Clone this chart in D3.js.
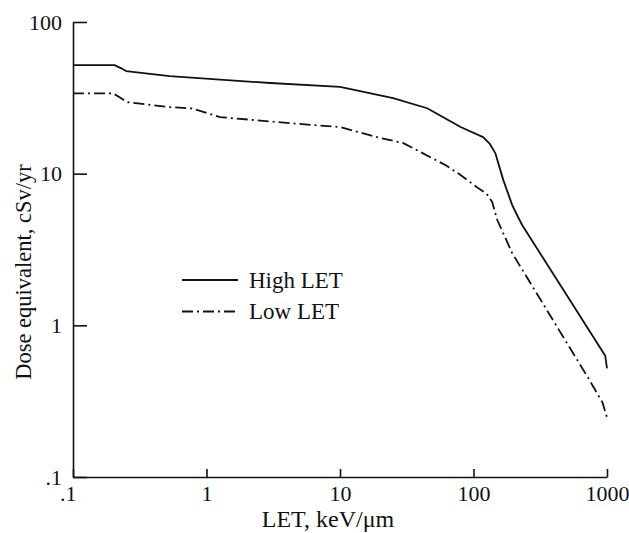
<!DOCTYPE html>
<html>
<head>
<meta charset="utf-8">
<script src="https://cdn.jsdelivr.net/npm/d3@7"></script>
<style>
  body { margin: 0; background: #fff; }
  text { font-family: "Liberation Serif", "Times New Roman", serif; fill: #111; }
</style>
</head>
<body>
<div id="chart"></div>
<script>
// données
const highX = [0.1, 0.205, 0.23, 0.25, 0.53, 3.0, 10, 25, 45, 80, 118, 132, 146, 167, 195, 215, 232, 970, 1000];
const highY = [52, 52, 49.5, 47.5, 44, 39.6, 37.4, 31.5, 27, 20.3, 17.4, 15.8, 13.6, 9.1, 6.2, 5.2, 4.57, 0.63, 0.52];

const lowX = [0.1, 0.2, 0.225, 0.254, 0.53, 0.78, 1.26, 6.3, 10, 19, 29.8, 61.5, 80, 109, 125, 138, 151, 195, 726, 925, 1000];
const lowY = [33.8, 33.8, 31.8, 29.6, 27.5, 26.9, 23.6, 20.9, 20.3, 17.4, 15.9, 11.4, 9.8, 8.0, 7.4, 6.5, 4.93, 2.99, 0.447, 0.31, 0.247];

const xTicks = [0.1, 1, 10, 100, 1000];
const xTickLabels = [".1", "1", "10", "100", "1000"];
const yTicks = [0.1, 1, 10, 100];
const yTickLabels = [".1", "1", "10", "100"];

const seriesNames = ["High LET", "Low LET"];

const width = 629, height = 533;
const margin = { top: 22, right: 22, bottom: 56, left: 73 };

const svg = d3.select("#chart").append("svg")
  .attr("width", width)
  .attr("height", height);

const x = d3.scaleLog().domain([0.1, 1000]).range([margin.left, width - margin.right]);
const y = d3.scaleLog().domain([0.1, 100]).range([height - margin.bottom, margin.top]);

// axe x
const xAxis = svg.append("g")
  .attr("transform", `translate(0,${height - margin.bottom})`)
  .call(d3.axisBottom(x)
    .tickValues(xTicks)
    .tickFormat((d, i) => xTickLabels[i])
    .tickSizeInner(-8)
    .tickSizeOuter(0)
    .tickPadding(8));
xAxis.selectAll("text").attr("font-size", 22).attr("fill", "#111");
xAxis.select("g.tick text").attr("text-anchor", "end").attr("dx", 3);

// axe y
const yAxis = svg.append("g")
  .attr("transform", `translate(${margin.left},0)`)
  .call(d3.axisLeft(y)
    .tickValues(yTicks)
    .tickFormat((d, i) => yTickLabels[i])
    .tickSizeInner(-14)
    .tickSizeOuter(0)
    .tickPadding(11));
yAxis.selectAll("text").attr("font-size", 22).attr("fill", "#111");

svg.selectAll(".domain, .tick line").attr("stroke", "#111").attr("stroke-width", 1.6);

// titres
svg.append("text")
  .attr("x", 328)
  .attr("y", 527)
  .attr("text-anchor", "middle")
  .attr("font-size", 24)
  .text("LET, keV/\u03bcm");

svg.append("text")
  .attr("transform", "translate(31,272) rotate(-90)")
  .attr("text-anchor", "middle")
  .attr("font-size", 22.5)
  .text("Dose equivalent, cSv/yr");

// courbes
const line = d3.line()
  .x(d => x(d[0]))
  .y(d => y(d[1]));

const series = [
  { name: seriesNames[0], pts: d3.zip(highX, highY), dash: null },
  { name: seriesNames[1], pts: d3.zip(lowX, lowY), dash: "11,4,2,4" }
];

svg.append("g")
  .selectAll("path")
  .data(series)
  .enter().append("path")
  .attr("d", d => line(d.pts))
  .attr("fill", "none")
  .attr("stroke", "#111")
  .attr("stroke-width", 1.8)
  .attr("stroke-linejoin", "round")
  .attr("stroke-dasharray", d => d.dash);

// légende
const legend = svg.append("g");
series.forEach((s, i) => {
  const ly = 280 + i * 31.5;
  legend.append("line")
    .attr("x1", 182).attr("x2", 238)
    .attr("y1", ly).attr("y2", ly)
    .attr("stroke", "#111")
    .attr("stroke-width", 1.8)
    .attr("stroke-dasharray", s.dash);
  legend.append("text")
    .attr("x", 249)
    .attr("y", ly)
    .attr("dy", "0.33em")
    .attr("font-size", 23)
    .text(s.name);
});
</script>
</body>
</html>
